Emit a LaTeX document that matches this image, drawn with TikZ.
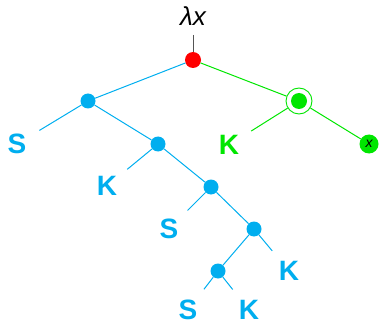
\documentclass[tikz,border=0pt]{standalone}
\usepackage{fontspec}
\newfontfamily\lblfont{Liberation Sans}
\usetikzlibrary{positioning}
\definecolor{sky}{HTML}{00AEEF}
\definecolor{leafgreen}{HTML}{00E600}
\definecolor{rootred}{HTML}{FF0000}
\definecolor{stem}{HTML}{555555}

\begin{document}
\begin{tikzpicture}[
  x=1pt, y=-1pt,
  dot/.style={circle, fill=#1, inner sep=0pt, minimum size=15pt},
  term/.style={circle, inner sep=0pt, minimum size=52pt, text=#1,
               font=\lblfont\bfseries\fontsize{28}{28}\selectfont},
  ring/.style={circle, draw=leafgreen, fill=white, line width=0.9pt,
               minimum size=26pt, inner sep=0pt},
  blueedge/.style={draw=sky, line width=1pt},
  greenedge/.style={draw=leafgreen, line width=1pt},
  stemline/.style={draw=stem, line width=1pt, shorten <=6pt},
]
\useasboundingbox (0,0) rectangle (380,326);

% the abstraction on top
\node[font=\lblfont\itshape\fontsize{26}{26}\selectfont] (lam) at (193,16) {λx};
\node[dot=rootred, minimum size=16pt] (root) at (193,60) {};
\draw[stemline] (lam) -- (root);

% blue spine
\node[dot=sky] (b1) at (88,101) {};
\node[dot=sky] (b2) at (158,144) {};
\node[dot=sky] (b3) at (211,187) {};
\node[dot=sky] (b4) at (254,229) {};
\node[dot=sky] (b5) at (218,271) {};

\node[term=sky] (s1) at (17,144) {S};
\node[term=sky] (k1) at (107,186) {K};
\node[term=sky] (s2) at (169,229) {S};
\node[term=sky] (k2) at (289,271) {K};
\node[term=sky] (s3) at (188,310) {S};
\node[term=sky] (k3) at (249,310) {K};

\foreach \a/\b in {root/b1, b1/s1, b1/b2, b2/k1, b2/b3, b3/s2,
                   b3/b4, b4/k2, b4/b5, b5/s3, b5/k3}
  \draw[blueedge] (\a) -- (\b);

% green branch
\node[ring] (gring) at (299,101) {};
\node[dot=leafgreen, minimum size=16pt] (g) at (gring) {};
\node[term=leafgreen] (gk) at (229,145) {K};
\node[dot=leafgreen, minimum size=19pt,
      font=\lblfont\itshape\fontsize{14}{14}\selectfont] (xv) at (369,144) {x};

\foreach \a/\b in {root/gring, gring/gk, gring/xv}
  \draw[greenedge] (\a) -- (\b);

\end{tikzpicture}
\end{document}
